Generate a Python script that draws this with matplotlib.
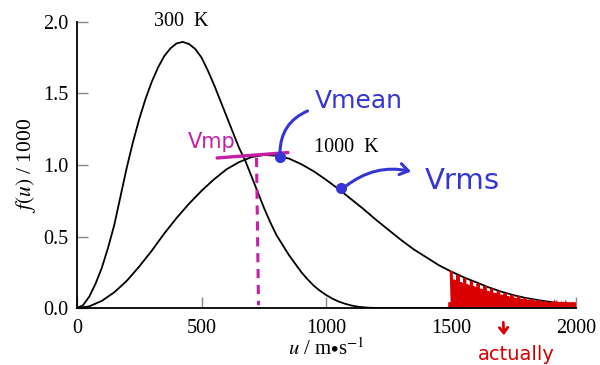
import matplotlib
matplotlib.use("Agg")
import matplotlib.pyplot as plt
import numpy as np

plt.rcParams["font.family"] = "Liberation Serif"
plt.rcParams["mathtext.fontset"] = "stix"

# speeds (m/s) and f(u)/1000
u_300 = [0, 25, 50, 75, 100, 125, 150, 175, 200, 225, 250, 275, 300, 325, 350, 375,
         400, 425, 450, 475, 500, 525, 550, 575, 600, 625, 650, 675, 700, 725, 750,
         775, 800, 825, 850, 875, 900, 925, 950, 975, 1000, 1025, 1050, 1075, 1100,
         1125, 1150, 1175, 1200, 1250, 1500, 2000]
f_300 = [0, 0.02, 0.08, 0.17, 0.28, 0.42, 0.58, 0.78, 0.98, 1.16, 1.32, 1.46, 1.58,
         1.68, 1.76, 1.815, 1.85, 1.86, 1.845, 1.81, 1.75, 1.66, 1.56, 1.45, 1.34,
         1.23, 1.12, 1.03, 0.92, 0.81, 0.70, 0.60, 0.51, 0.44, 0.37, 0.31, 0.25, 0.20,
         0.155, 0.12, 0.09, 0.065, 0.045, 0.03, 0.018, 0.01, 0.005, 0.002, 0.001, 0,
         0, 0]

u_1000 = [0, 50, 100, 150, 200, 250, 300, 350, 400, 450, 500, 550, 600, 650, 700,
          750, 800, 850, 900, 950, 1000, 1050, 1100, 1150, 1200, 1250, 1300, 1350,
          1400, 1450, 1500, 1550, 1600, 1650, 1700, 1750, 1800, 1850, 1900, 1950, 2000]
f_1000 = [0, 0.012, 0.05, 0.11, 0.19, 0.29, 0.40, 0.52, 0.63, 0.73, 0.82, 0.90, 0.97,
          1.02, 1.055, 1.07, 1.065, 1.045, 1.005, 0.955, 0.895, 0.83, 0.76, 0.69,
          0.615, 0.545, 0.475, 0.41, 0.355, 0.30, 0.255, 0.215, 0.18, 0.145, 0.115,
          0.09, 0.07, 0.055, 0.042, 0.031, 0.022]

x_ticks = [0, 500, 1000, 1500, 2000]
y_ticks = [0.0, 0.5, 1.0, 1.5, 2.0]

# hand-drawn marks
u_mp, u_mean, u_rms = 720, 814, 1059
MAG = "#c61fa6"
BLU = "#3535d6"
RED = "#d80000"

fig = plt.figure(figsize=(6, 3.65), dpi=100)
ax = fig.add_axes([0.128, 0.156, 0.832, 0.784])

ax.plot(u_300, f_300, color="black", lw=1.3)
ax.plot(u_1000, f_1000, color="black", lw=1.3)

ax.set_xlim(0, 2000)
ax.set_ylim(0, 2.0)
ax.set_xticks(x_ticks)
ax.set_yticks(y_ticks)
ax.set_yticklabels([f"{v:.1f}" for v in y_ticks])
for s in ["top", "right"]:
    ax.spines[s].set_visible(False)
for s in ["left", "bottom"]:
    ax.spines[s].set_linewidth(1.3)
ax.tick_params(direction="in", length=8, width=1, color="#888888",
               labelsize=14.5, pad=6)
ax.tick_params(axis="x", pad=8)
ax.set_xlabel(r"$u$ / m$\bullet$s$^{-1}$", fontsize=15, labelpad=0)
ax.set_ylabel(r"$f(u)$ / 1000", fontsize=15.5, labelpad=4)

ax.text(420, 2.0, "300  K", ha="center", va="center", fontsize=14.5)
ax.text(1079, 1.125, "1000  K", ha="center", va="center", fontsize=14.5)

# red scribble under the 1000 K tail
zz_u = np.arange(1500, 2000, 9)
zz_top = np.interp(zz_u, u_1000, f_1000)
zx, zy = [], []
for i, (uu, tt) in enumerate(zip(zz_u, zz_top)):
    zx += [uu, uu + 4.5]
    zy += [tt * (0.98 if i % 3 == 0 else 0.8), 0.01]
ax.plot(zx, zy, color=RED, lw=2.2, solid_joinstyle="miter")
ax.plot([1500, 2000], [0.02, 0.02], color=RED, lw=4)

# v_mp
ax.plot([u_mp, u_mp + 8], [1.05, 0.02], color=MAG, lw=2.2, ls=(0, (3, 2.2)))
ax.plot([562, 846], [1.049, 1.087], color=MAG, lw=2.4, solid_capstyle="round")
ax.text(541, 1.16, "Vmp", color=MAG, fontsize=15, ha="center", va="center",
        family="DejaVu Sans")

# v_mean
ax.plot([u_mean], [1.058], "o", color=BLU, ms=7)
ax.annotate("", xy=(935, 1.385), xytext=(u_mean, 1.07),
            arrowprops=dict(arrowstyle="-", color=BLU, lw=2.2,
                            connectionstyle="arc3,rad=-0.35"))
ax.text(1131, 1.45, "Vmean", color=BLU, fontsize=18, ha="center", va="center",
        family="DejaVu Sans")

# v_rms
ax.plot([u_rms], [0.84], "o", color=BLU, ms=7)
ax.annotate("", xy=(1350, 0.95), xytext=(u_rms + 10, 0.84),
            arrowprops=dict(arrowstyle="->,head_length=0.6,head_width=0.4",
                            color=BLU, lw=2.2,
                            connectionstyle="arc3,rad=-0.25"))
ax.text(1545, 0.89, "Vrms", color=BLU, fontsize=21, ha="center", va="center",
        family="DejaVu Sans")

# red note at the bottom edge
ax.annotate("", xy=(1712, -0.21), xytext=(1708, -0.08), annotation_clip=False,
            arrowprops=dict(arrowstyle="->,head_length=0.4,head_width=0.3",
                            color=RED, lw=2))
fig.text(0.797, 0.004, "actually", color=RED, fontsize=14, ha="left",
         va="bottom", family="DejaVu Sans")

fig.savefig("out.png", dpi=100)
